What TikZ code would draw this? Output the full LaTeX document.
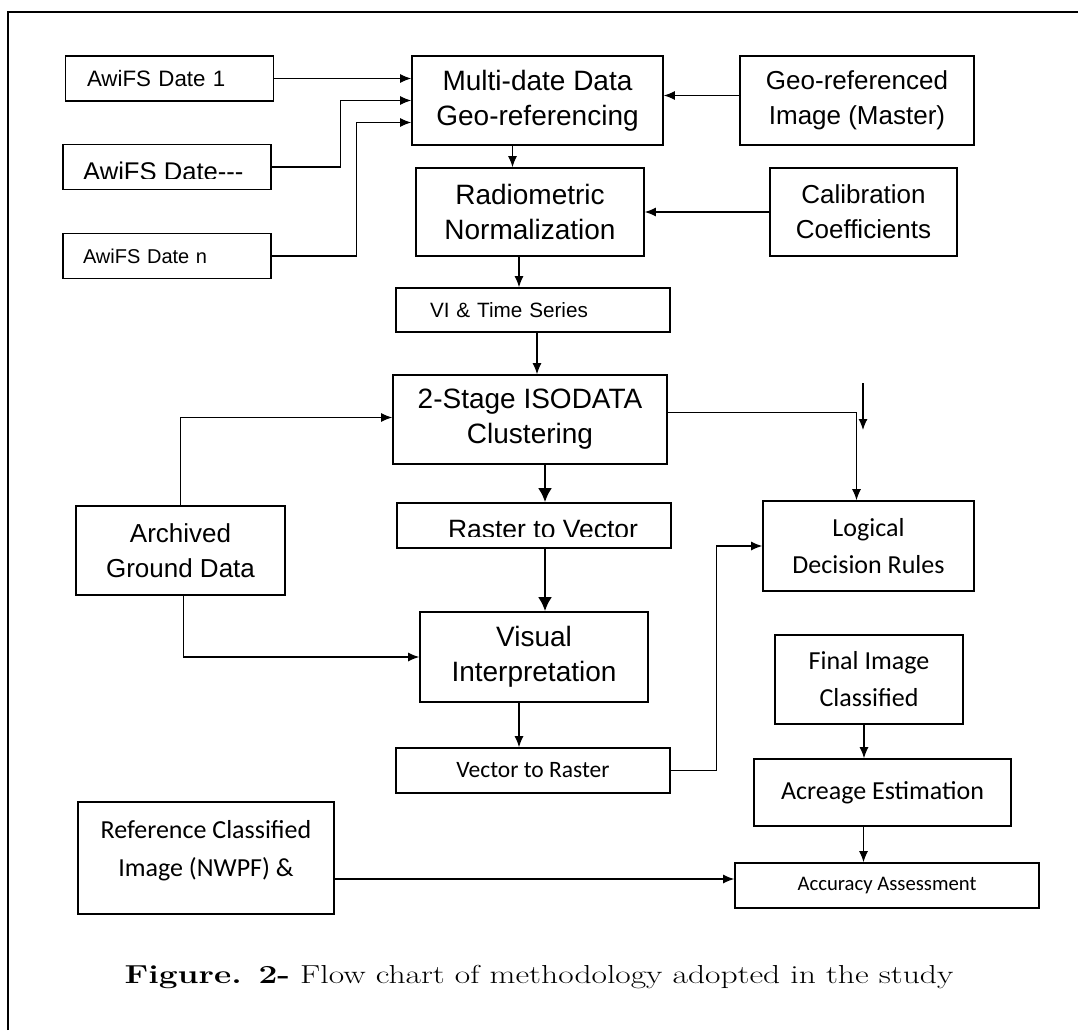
\documentclass[tikz,border=0pt]{standalone}
\usepackage{fontspec}
\newfontfamily\arialfont{Liberation Sans}
\newfontfamily\calibrifont{Carlito}
\usetikzlibrary{shapes,arrows,arrows.meta,positioning}
\tikzstyle{block} = [rectangle, draw, line width=1.6pt, align=center, inner sep=0pt]
\tikzstyle{abox} = [block, font=\arialfont\fontsize{26}{35}\selectfont]
\tikzstyle{mbox} = [block, font=\arialfont\fontsize{28}{35}\selectfont]
\tikzstyle{cbox} = [block, font=\calibrifont\fontsize{26}{37}\selectfont]
\tikzstyle{datebox} = [block, align=left, minimum width=208pt, minimum height=45pt, font=\arialfont\fontsize{22.3}{28}\selectfont]
\tikzstyle{line} = [draw, line width=1.2pt]
\tikzstyle{arrow} = [line, -{Latex[length=11pt,width=9pt]}]
\tikzstyle{thickarrow} = [draw, line width=2.8pt, -{Latex[length=14pt,width=14pt]}]

\begin{document}
\begin{tikzpicture}[x=1pt, y=-1pt]
	\useasboundingbox (0,0) rectangle (1078,1030);
	\draw [line width=2.6pt] (8,1030) -- (8,12) -- (1078,12);

	% inputs
	\node [datebox, text width=165pt] (d1) at (169.5,78.5) {AwiFS Date 1};
	\node [datebox] (dash) at (167,167) {};
	\begin{scope}
		\clip (62,145) rectangle (272,178);
		\node [anchor=base west, inner sep=0pt, font=\arialfont\fontsize{25.6}{28}\selectfont] (dashtxt) at (83,180) {AwiFS Date---};
	\end{scope}
	\node [datebox, text width=168pt, font=\arialfont\fontsize{20}{26}\selectfont] (dn) at (167,256) {AwiFS Date n};

	% main chain
	\node [mbox, minimum width=251pt, minimum height=89pt] (multi) at (537.5,100.5) {Multi-date Data\\Geo-referencing};
	\node [abox, minimum width=234pt, minimum height=89pt] (master) at (857,100.5) {Geo-referenced\\Image (Master)};
	\node [mbox, minimum width=228pt, minimum height=88pt] (radio) at (530,212) {Radiometric\\Normalization};
	\node [abox, minimum width=187pt, minimum height=88pt] (calib) at (863.5,212) {Calibration\\Coefficients};
	\node [block, align=left, minimum width=274pt, minimum height=44pt, text width=206pt, font=\arialfont\fontsize{20.7}{24}\selectfont] (vi) at (533,310) {VI \& Time Series};
	\node [mbox, minimum width=274pt, minimum height=89pt] (iso) at (530,419.5) {2-Stage ISODATA\\Clustering};
	\node [block, minimum width=274pt, minimum height=45pt] (r2v) at (534,525.5) {};
	\begin{scope}
		\clip (397,503) rectangle (671,536);
		\node [anchor=base, inner sep=0pt, font=\arialfont\fontsize{26.5}{28}\selectfont] (r2vtxt) at (543,538) {Raster to Vector};
	\end{scope}
	\node [mbox, minimum width=228pt, minimum height=90pt] (vis) at (534,657) {Visual\\Interpretation};
	\node [block, minimum width=274pt, minimum height=45pt, font=\calibrifont\fontsize{23.5}{24}\selectfont] (v2r) at (533,770.5) {Vector to Raster};
	\node [abox, minimum width=209pt, minimum height=89pt] (arch) at (180.5,550.5) {Archived\\Ground Data};

	% right column
	\node [cbox, minimum width=211pt, minimum height=90pt] (logic) at (868.5,546) {Logical\\Decision Rules};
	\node [cbox, minimum width=188pt, minimum height=89pt] (final) at (869,679.5) {Final Image\\Classified};
	\node [cbox, minimum width=257pt, minimum height=67pt] (acre) at (882.5,792.5) {Acreage Estimation};
	\node [block, minimum width=304pt, minimum height=45pt, font=\calibrifont\fontsize{20.7}{24}\selectfont] (acc) at (887,885.5) {Accuracy Assessment};
	\node [block, minimum width=256pt, minimum height=112pt, text depth=20pt, font=\calibrifont\fontsize{26}{38}\selectfont] (ref) at (206,858) {Reference Classified\\Image (NWPF) \&};

	\node [anchor=base, font=\fontsize{26}{30}\selectfont] (caption) at (539,983) {\scalebox{1.29}[1]{\textbf{Figure. 2-} Flow chart of methodology adopted in the study}};

	\coordinate (free1) at (863,383);
	\coordinate (free2) at (863,430);

	\path [arrow] (d1.east) -- (d1.east -| multi.west);
	\path [arrow] (dash.east) -- ++(69,0) |- (multi.west);
	\path [arrow] (dn.east) -- ++(85,0) |- ([yshift=-22pt]multi.west);
	\path [arrow] ([yshift=5pt]master.west) -- ([yshift=5pt]multi.east);
	\path [arrow] ([xshift=-25pt]multi.south) -- ([xshift=-25pt]multi.south |- radio.north);
	\path [arrow] (calib.west) -- (radio.east);
	\path [arrow] ([xshift=-11pt]radio.south) -- ([xshift=-11pt]radio.south |- vi.north);
	\path [arrow] ([xshift=4pt]vi.south) -- ([xshift=4pt]vi.south |- iso.north);
	\path [thickarrow] ([xshift=15pt]iso.south) -- ([xshift=15pt]iso.south |- r2v.north);
	\path [thickarrow] ([xshift=11pt]r2v.south) -- ([xshift=11pt]r2v.south |- vis.north);
	\path [arrow] ([xshift=-15pt]vis.south) -- ([xshift=-15pt]vis.south |- v2r.north);
	\path [arrow] (arch.north) |- ([yshift=2pt]iso.west);
	\path [arrow] ([xshift=3pt]arch.south) |- (vis.west);
	\path [arrow] ([yshift=7pt]iso.east) -| ([xshift=-12pt]logic.north);
	\path [arrow] (free1) -- (free2);
	\path [arrow] (v2r.east) -- ++(46,0) |- (logic.west);
	\path [arrow] ([xshift=-5pt]final.south) -- ([xshift=-5pt]final.south |- acre.north);
	\path [arrow] ([xshift=-19pt]acre.south) -- ([xshift=-19pt]acre.south |- acc.north);
	\path [arrow] ([yshift=-21pt]ref.east) -- ([yshift=-21pt]ref.east -| acc.west);
\end{tikzpicture}
\end{document}
